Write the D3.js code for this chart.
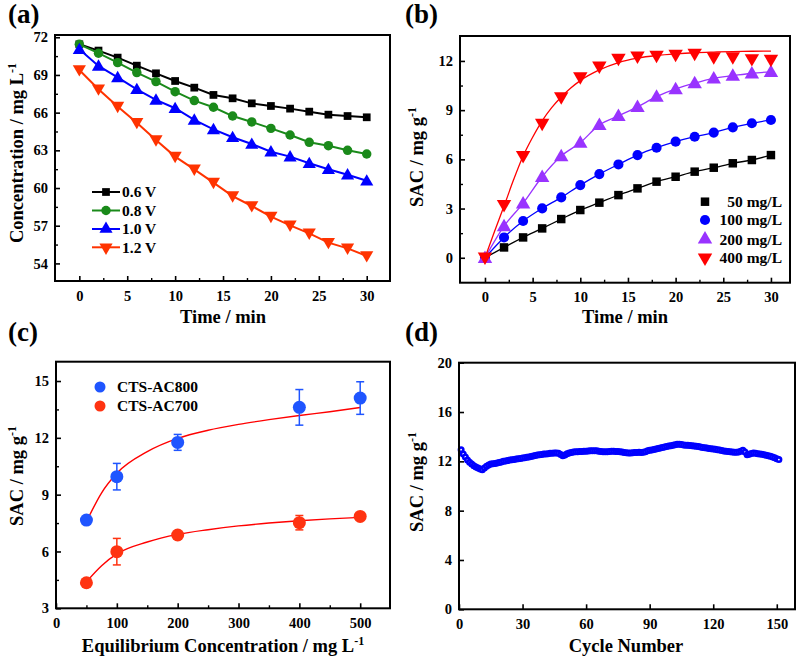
<!DOCTYPE html>
<html><head><meta charset="utf-8">
<script src="https://cdn.jsdelivr.net/npm/d3@7"></script>
<style>body{margin:0;background:#fff}svg{display:block}text{font-family:"Liberation Serif","Times New Roman",serif;font-weight:bold;fill:#000}</style>
</head><body>
<svg id="c" width="800" height="659"></svg>
<script>
// ---------- DATA ----------
const timeA = [0,2,4,6,8,10,12,14,16,18,20,22,24,26,28,30];
const seriesA_names = ["0.6 V","0.8 V","1.0 V","1.2 V"];
const a06 = [71.44,70.94,70.38,69.74,69.13,68.52,67.99,67.41,67.14,66.74,66.53,66.32,66.08,65.84,65.73,65.63];
const a08 = [71.44,70.73,69.98,69.19,68.47,67.67,66.96,66.43,65.73,65.26,64.75,64.22,63.64,63.37,63.0,62.71];
const a10 = [71.04,69.72,68.81,67.86,67.01,66.35,65.42,64.67,64.04,63.5,62.89,62.5,61.97,61.49,61.06,60.58];
const a12 = [69.4,67.86,66.48,65.2,63.82,62.5,61.49,60.43,59.36,58.57,57.72,57.03,56.39,55.65,55.2,54.59];
const ticksAx = [0,5,10,15,20,25,30];
const ticksAy = [54,57,60,63,66,69,72];

const timeB = [0,2,4,6,8,10,12,14,16,18,20,22,24,26,28,30];
const seriesB_names = ["50 mg/L","100 mg/L","200 mg/L","400 mg/L"];
const b50  = [0,0.63,1.24,1.79,2.36,2.91,3.36,3.82,4.23,4.64,4.94,5.25,5.49,5.76,5.96,6.26];
const b100 = [0,1.24,2.24,3.01,3.68,4.43,5.1,5.69,6.26,6.71,7.08,7.38,7.63,7.95,8.2,8.4];
const b200 = [0,1.93,3.32,4.94,6.2,7.02,8.1,8.65,9.2,9.82,10.29,10.65,10.94,11.1,11.25,11.33];
const b400 = [0,3.21,6.2,8.16,9.78,11.0,11.65,12.12,12.26,12.3,12.37,12.43,12.22,12.22,12.1,12.06];
const fitB400_t = [0,1,2,3,4,5,6,7,8,9,10,12,14,16,18,20,22,24,26,28,30];
const fitB400_v = [0,1.6,3.15,4.75,6.2,7.35,8.35,9.15,9.8,10.35,10.8,11.45,11.9,12.17,12.33,12.43,12.5,12.54,12.57,12.59,12.6];
const ticksBx = [0,5,10,15,20,25,30];
const ticksBy = [0,3,6,9,12];

const concC = [50,100,200,400,500];
const seriesC_names = ["CTS-AC800","CTS-AC700"];
const c800 = [7.66,9.95,11.76,13.61,14.1];
const c800err = [0.15,0.7,0.42,0.94,0.86];
const c700 = [4.35,5.99,6.87,7.52,7.85];
const c700err = [0.1,0.7,0.1,0.38,0.1];
const fitC_x = [50,75,100,150,200,250,300,350,400,450,500];
const fitC800 = [7.57,9.1,10.13,11.27,11.97,12.4,12.71,12.96,13.18,13.38,13.6];
const fitC700 = [4.4,5.25,5.87,6.5,6.9,7.15,7.35,7.5,7.62,7.72,7.8];
const ticksCx = [0,100,200,300,400,500];
const ticksCy = [3,6,9,12,15];

const cycleD = d3.range(1,152);
const sacD = [12.95,12.6,12.35,12.1,11.92,11.78,11.65,11.55,11.46,11.38,
11.32,11.45,11.6,11.7,11.78,11.8,11.82,11.86,11.9,11.95,
12.0,12.02,12.06,12.1,12.12,12.15,12.19,12.2,12.24,12.27,
12.3,12.33,12.36,12.4,12.43,12.47,12.51,12.53,12.56,12.59,
12.6,12.62,12.65,12.66,12.67,12.68,12.66,12.55,12.46,12.52,
12.62,12.68,12.72,12.76,12.77,12.78,12.8,12.8,12.81,12.82,
12.84,12.85,12.86,12.85,12.86,12.82,12.8,12.78,12.77,12.78,
12.8,12.81,12.81,12.8,12.8,12.78,12.76,12.72,12.69,12.68,
12.68,12.7,12.72,12.72,12.73,12.72,12.74,12.78,12.85,12.89,
12.92,12.96,13.0,13.04,13.08,13.12,13.16,13.2,13.24,13.27,
13.3,13.34,13.38,13.38,13.36,13.33,13.3,13.3,13.29,13.27,
13.25,13.22,13.2,13.16,13.12,13.1,13.08,13.05,13.02,13.0,
12.98,12.95,12.92,12.88,12.84,12.81,12.79,12.77,12.75,12.74,
12.73,12.75,12.82,12.89,12.75,12.54,12.58,12.64,12.68,12.66,
12.62,12.6,12.57,12.54,12.5,12.46,12.42,12.36,12.3,12.22,12.14];
const ticksDx = [0,30,60,90,120,150];
const ticksDy = [0,4,8,12,16,20];

// ---------- HELPERS ----------
const svg = d3.select("#c");
const FONT = '"Liberation Serif","Times New Roman",serif';

function panel(o){
  const g = svg.append("g");
  const x = d3.scaleLinear().domain(o.xd).range([o.l,o.r]);
  const y = d3.scaleLinear().domain(o.yd).range([o.b,o.t]);
  const ax = d3.axisBottom(x).tickValues(o.xt).tickSizeInner(-5).tickSizeOuter(0).tickPadding(8).tickFormat(d3.format("d"));
  const ay = d3.axisLeft(y).tickValues(o.yt).tickSizeInner(-5).tickSizeOuter(0).tickPadding(7).tickFormat(d3.format("d"));
  const gx = g.append("g").attr("transform",`translate(0,${o.b})`).call(ax);
  const gy = g.append("g").attr("transform",`translate(${o.l},0)`).call(ay);
  [gx,gy].forEach(a=>{a.attr("font-family",FONT).attr("font-size",14);
    a.select(".domain").remove();a.selectAll("line").attr("stroke","#000").attr("stroke-width",1.6);
    a.selectAll("text").style("font-size","14.5px").style("font-family",FONT).style("font-weight","bold").attr("fill","#000");});
  gx.selectAll("text").attr("dy","0.8em");
  if(o.xm){
    const axm = d3.axisBottom(x).tickValues(o.xm).tickSizeInner(-3).tickSizeOuter(0).tickFormat("");
    const m = g.append("g").attr("transform",`translate(0,${o.b})`).call(axm);
    m.select(".domain").remove(); m.selectAll("line").attr("stroke","#000").attr("stroke-width",1.4);
  }
  if(o.ym){
    const aym = d3.axisLeft(y).tickValues(o.ym).tickSizeInner(-3).tickSizeOuter(0).tickFormat("");
    const m = g.append("g").attr("transform",`translate(${o.l},0)`).call(aym);
    m.select(".domain").remove(); m.selectAll("line").attr("stroke","#000").attr("stroke-width",1.4);
  }
  const plot = g.append("g");
  const frame = ()=>g.append("rect").attr("x",o.l).attr("y",o.t).attr("width",o.r-o.l).attr("height",o.b-o.t)
      .attr("fill","none").attr("stroke","#000").attr("stroke-width",2);
  svg.append("text").attr("x",o.lx).attr("y",o.ly).style("font-size","27px").text(o.label);
  const xt = svg.append("text").attr("x",o.xtx).attr("y",o.xty).attr("text-anchor","middle").style("font-size","18.5px");
  xt.append("tspan").text(o.xtitle);
  if(o.xsup) xt.append("tspan").attr("dy","-0.55em").style("font-size","12px").text(o.xsup);
  const yt = svg.append("text").attr("transform",`translate(${o.ytx},${o.yty}) rotate(-90)`).attr("text-anchor","middle").style("font-size","18.5px");
  yt.append("tspan").text(o.ytitle);
  if(o.ysup) yt.append("tspan").attr("dy","-0.55em").style("font-size","12px").text(o.ysup);
  return {x,y,g:plot,frame};
}

// ---------- PANEL A ----------
{
  const P = panel({id:"a",l:55,r:390,t:35,b:281,xd:[-2.54,32.43],yd:[52.6,72.18],xt:ticksAx,yt:ticksAy,
    xm:[2.5,7.5,12.5,17.5,22.5,27.5],ym:[55.5,58.5,61.5,64.5,67.5,70.5],
    label:"(a)",lx:8,ly:23,xtitle:"Time / min",xtx:223,xty:323,ytitle:"Concentration / mg L",ysup:"-1",ytx:23,yty:153});
  const sets = [
    {v:a06,c:"#000000",s:d3.symbolSquare,z:60,rot:0},
    {v:a08,c:"#1a8a1a",s:d3.symbolCircle,z:70,rot:0},
    {v:a10,c:"#0000ff",s:d3.symbolTriangle,z:75,rot:0},
    {v:a12,c:"#ff3300",s:d3.symbolTriangle,z:75,rot:180}];
  const line = d3.line().x((d,i)=>P.x(timeA[i])).y(d=>P.y(d));
  sets.forEach(S=>{
    P.g.append("path").attr("d",line(S.v)).attr("fill","none").attr("stroke",S.c).attr("stroke-width",2);
    P.g.selectAll(null).data(S.v).enter().append("path").attr("d",d3.symbol().type(S.s).size(S.z)())
      .attr("transform",(d,i)=>`translate(${P.x(timeA[i])},${P.y(d)+(S.s===d3.symbolTriangle?(S.rot?-1:1):0)}) rotate(${S.rot})`).attr("fill",S.c);
  });
  P.frame();
  const ly=[192,210.5,229,247.3];
  sets.forEach((S,i)=>{
    svg.append("line").attr("x1",92).attr("x2",120).attr("y1",ly[i]).attr("y2",ly[i]).attr("stroke",S.c).attr("stroke-width",2);
    svg.append("path").attr("d",d3.symbol().type(S.s).size(S.z)()).attr("transform",`translate(106,${ly[i]}) rotate(${S.rot})`).attr("fill",S.c);
    svg.append("text").attr("x",122).attr("y",ly[i]).attr("dy","0.35em").style("font-size","15.5px").text(seriesA_names[i]);
  });
}

// ---------- PANEL B ----------
{
  const P = panel({id:"b",l:460,r:790,t:36,b:282.7,xd:[-2.62,32.0],yd:[-1.52,13.52],xt:ticksBx,yt:ticksBy,
    xm:[2.5,7.5,12.5,17.5,22.5,27.5],ym:[1.5,4.5,7.5,10.5],
    label:"(b)",lx:405,ly:23,xtitle:"Time / min",xtx:625,xty:323,ytitle:"SAC / mg g",ysup:"-1",ytx:423,yty:157});
  const sets = [
    {v:b50,c:"#000000",s:d3.symbolSquare,z:72,rot:0},
    {v:b100,c:"#0000ff",s:d3.symbolCircle,z:80,rot:0},
    {v:b200,c:"#9933ff",s:d3.symbolTriangle,z:90,rot:0},
    {v:b400,c:"#ff0000",s:d3.symbolTriangle,z:90,rot:180}];
  const line = d3.line().curve(d3.curveMonotoneX).x((d,i)=>P.x(timeB[i])).y(d=>P.y(d));
  sets.slice(0,3).forEach(S=>{
    P.g.append("path").attr("d",line(S.v)).attr("fill","none").attr("stroke",S.c).attr("stroke-width",1.3);
  });
  const fl = d3.line().curve(d3.curveMonotoneX).x((d,i)=>P.x(fitB400_t[i])).y(d=>P.y(d));
  P.g.append("path").attr("d",fl(fitB400_v)).attr("fill","none").attr("stroke","#ff0000").attr("stroke-width",1.3);
  sets.forEach(S=>{
    P.g.selectAll(null).data(S.v).enter().append("path").attr("d",d3.symbol().type(S.s).size(S.z)())
      .attr("transform",(d,i)=>`translate(${P.x(timeB[i])},${P.y(d)+(S.s===d3.symbolTriangle?(S.rot?-1:1):0)}) rotate(${S.rot})`).attr("fill",S.c);
  });
  P.frame();
  const ly=[201.7,220,239.3,257.7];
  sets.forEach((S,i)=>{
    svg.append("path").attr("d",d3.symbol().type(S.s).size(S.z)()).attr("transform",`translate(705,${ly[i]}) rotate(${S.rot})`).attr("fill",S.c);
    svg.append("text").attr("x",782).attr("y",ly[i]).attr("dy","0.35em").attr("text-anchor","end").style("font-size","15.5px").text(seriesB_names[i]);
  });
}

// ---------- PANEL C ----------
{
  const P = panel({id:"c",l:56,r:390,t:361.7,b:608.3,xd:[0,549],yd:[3,16.02],xt:ticksCx,yt:ticksCy,
    xm:[50,150,250,350,450],ym:[4.5,7.5,10.5,13.5],
    label:"(c)",lx:8,ly:341,xtitle:"Equilibrium Concentration / mg L",xsup:"-1",xtx:223,xty:652,ytitle:"SAC / mg g",ysup:"-1",ytx:23,yty:476});
  const fl = d3.line().curve(d3.curveMonotoneX).x((d,i)=>P.x(fitC_x[i])).y(d=>P.y(d));
  const sets=[{v:c800,e:c800err,c:"#1f55ff",f:fitC800},{v:c700,e:c700err,c:"#ff3311",f:fitC700}];
  sets.forEach(S=>{
    P.g.append("path").attr("d",fl(S.f)).attr("fill","none").attr("stroke","#ff0000").attr("stroke-width",1.4);
  });
  sets.forEach(S=>{
    const eg = P.g.append("g").attr("stroke",S.c).attr("stroke-width",1.5);
    concC.forEach((cx,i)=>{
      const X=P.x(cx), y1=P.y(S.v[i]+S.e[i]), y2=P.y(S.v[i]-S.e[i]);
      eg.append("line").attr("x1",X).attr("x2",X).attr("y1",y1).attr("y2",y2);
      eg.append("line").attr("x1",X-4).attr("x2",X+4).attr("y1",y1).attr("y2",y1);
      eg.append("line").attr("x1",X-4).attr("x2",X+4).attr("y1",y2).attr("y2",y2);
    });
    P.g.selectAll(null).data(S.v).enter().append("circle").attr("cx",(d,i)=>P.x(concC[i])).attr("cy",d=>P.y(d)).attr("r",6.5).attr("fill",S.c);
  });
  P.frame();
  const ly=[387,406];
  sets.forEach((S,i)=>{
    svg.append("circle").attr("cx",100).attr("cy",ly[i]).attr("r",5.5).attr("fill",S.c);
    svg.append("text").attr("x",117).attr("y",ly[i]).attr("dy","0.35em").style("font-size","15.5px").text(seriesC_names[i]);
  });
}

// ---------- PANEL D ----------
{
  const P = panel({id:"d",l:459,r:795,t:362.7,b:609.3,xd:[0,158.6],yd:[0,20],xt:ticksDx,yt:ticksDy,
    label:"(d)",lx:405,ly:341,xtitle:"Cycle Number",xtx:626,xty:652,ytitle:"SAC / mg g",ysup:"-1",ytx:423,yty:482});
  P.g.selectAll(null).data(sacD).enter().append("circle").attr("cx",(d,i)=>P.x(cycleD[i])).attr("cy",d=>P.y(d))
    .attr("r",2.2).attr("fill","#fff").attr("stroke","#0000ff").attr("stroke-width",2.6);
  P.frame();
}
</script>
</body></html>
